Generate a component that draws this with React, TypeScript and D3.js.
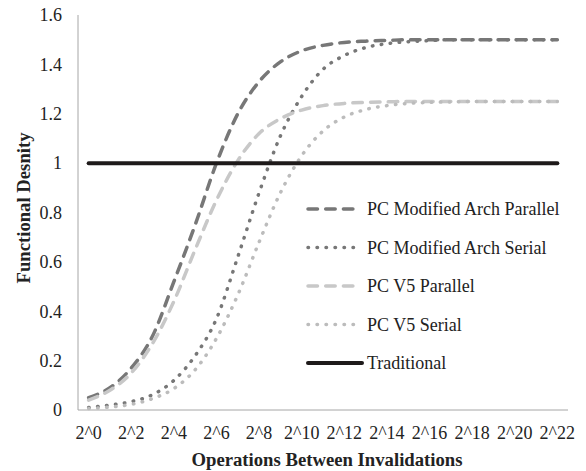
import React from 'react';
import * as d3 from 'd3';

// exponents on the x axis (2^0 .. 2^22)
const exponents = d3.range(0, 23);
const tickLabels = exponents.map(e => (e % 2 === 0 ? `2^${e}` : ''));
const yTicks = [0, 0.2, 0.4, 0.6, 0.8, 1, 1.2, 1.4, 1.6];

const modArchParallel = [0.05, 0.09, 0.17, 0.30, 0.52, 0.75, 1.00, 1.20, 1.33, 1.41, 1.455, 1.477, 1.489, 1.494, 1.497, 1.5, 1.5, 1.5, 1.5, 1.5, 1.5, 1.5, 1.5];
const modArchSerial = [0.01, 0.02, 0.034, 0.062, 0.12, 0.22, 0.37, 0.62, 0.88, 1.11, 1.27, 1.38, 1.436, 1.468, 1.484, 1.492, 1.496, 1.5, 1.5, 1.5, 1.5, 1.5, 1.5];
const v5Parallel = [0.04, 0.08, 0.15, 0.27, 0.44, 0.65, 0.85, 1.01, 1.12, 1.18, 1.215, 1.233, 1.242, 1.246, 1.248, 1.25, 1.25, 1.25, 1.25, 1.25, 1.25, 1.25, 1.25];
const v5Serial = [0.006, 0.012, 0.023, 0.046, 0.087, 0.163, 0.29, 0.466, 0.68, 0.88, 1.03, 1.13, 1.187, 1.217, 1.233, 1.242, 1.246, 1.248, 1.25, 1.25, 1.25, 1.25, 1.25];
const traditional = [1, 1, 1, 1, 1, 1, 1, 1, 1, 1, 1, 1, 1, 1, 1, 1, 1, 1, 1, 1, 1, 1, 1];

const series = [
  { name: 'PC Modified Arch Parallel', values: modArchParallel, color: '#777777', width: 3.5, dash: '9.5,8.2' },
  { name: 'PC Modified Arch Serial', values: modArchSerial, color: '#777777', width: 3.5, dash: '0.5,8.5' },
  { name: 'PC V5 Parallel', values: v5Parallel, color: '#c8c8c8', width: 3.5, dash: '9.5,8.2' },
  { name: 'PC V5 Serial', values: v5Serial, color: '#bcbcbc', width: 3.5, dash: '0.5,8.5' },
  { name: 'Traditional', values: traditional, color: '#1e1a1a', width: 4, dash: null },
];

const W = 586;
const H = 471;
const margin = { top: 15, right: 18, bottom: 61, left: 78 };
const FONT = '"Liberation Serif", "Times New Roman", serif';

const App = () => {
  const x = d3.scalePoint<number>()
    .domain(exponents)
    .range([margin.left, W - margin.right])
    .padding(0.5);

  const y = d3.scaleLinear()
    .domain([0, 1.6])
    .range([H - margin.bottom, margin.top]);

  const line = d3.line<number>()
    .x((_, i) => x(exponents[i]) as number)
    .y(d => y(d))
    .curve(d3.curveMonotoneX);

  const legendX = 308;
  const legendY = 209;
  const legendStep = 38.5;

  return (
    <svg width={W} height={H} style={{ position: 'absolute', left: 0, top: 0, background: '#fff' }}>
      {/* axes */}
      <line x1={margin.left} x2={margin.left} y1={margin.top} y2={H - margin.bottom} stroke="#a6a6a6" strokeWidth={1} />
      <line x1={margin.left} x2={W - margin.right} y1={H - margin.bottom} y2={H - margin.bottom} stroke="#a6a6a6" strokeWidth={1} />

      {yTicks.map(t => (
        <text key={t} x={62} y={y(t)} dy="0.35em" textAnchor="end" fontFamily={FONT} fontSize={18} fill="#222">
          {t}
        </text>
      ))}

      {exponents.map((e, i) => (
        tickLabels[i] ? (
          <text key={e} x={x(e)} y={439} textAnchor="middle" fontFamily={FONT} fontSize={18} fill="#222">
            {tickLabels[i]}
          </text>
        ) : null
      ))}

      <text x={327} y={466} textAnchor="middle" fontFamily={FONT} fontSize={18.7} fontWeight="bold" fill="#222">
        Operations Between Invalidations
      </text>
      <text transform="translate(30,208) rotate(-90)" textAnchor="middle" fontFamily={FONT} fontSize={18.7} fontWeight="bold" fill="#222">
        Functional Desnity
      </text>

      {/* series */}
      {series.map(s => (
        <path
          key={s.name}
          d={line(s.values) || ''}
          fill="none"
          stroke={s.color}
          strokeWidth={s.width}
          strokeDasharray={s.dash || undefined}
          strokeLinecap="round"
        />
      ))}

      {/* legend */}
      {series.map((s, i) => (
        <g key={s.name} transform={`translate(${legendX},${legendY + i * legendStep})`}>
          <line x1={0} x2={s.dash ? 48 : 54} y1={0} y2={0} stroke={s.color} strokeWidth={s.width}
            strokeDasharray={s.dash || undefined} strokeLinecap="round" />
          <text x={59} y={0} dy="0.35em" fontFamily={FONT} fontSize={18} fill="#222">{s.name}</text>
        </g>
      ))}
    </svg>
  );
};

export default App;
